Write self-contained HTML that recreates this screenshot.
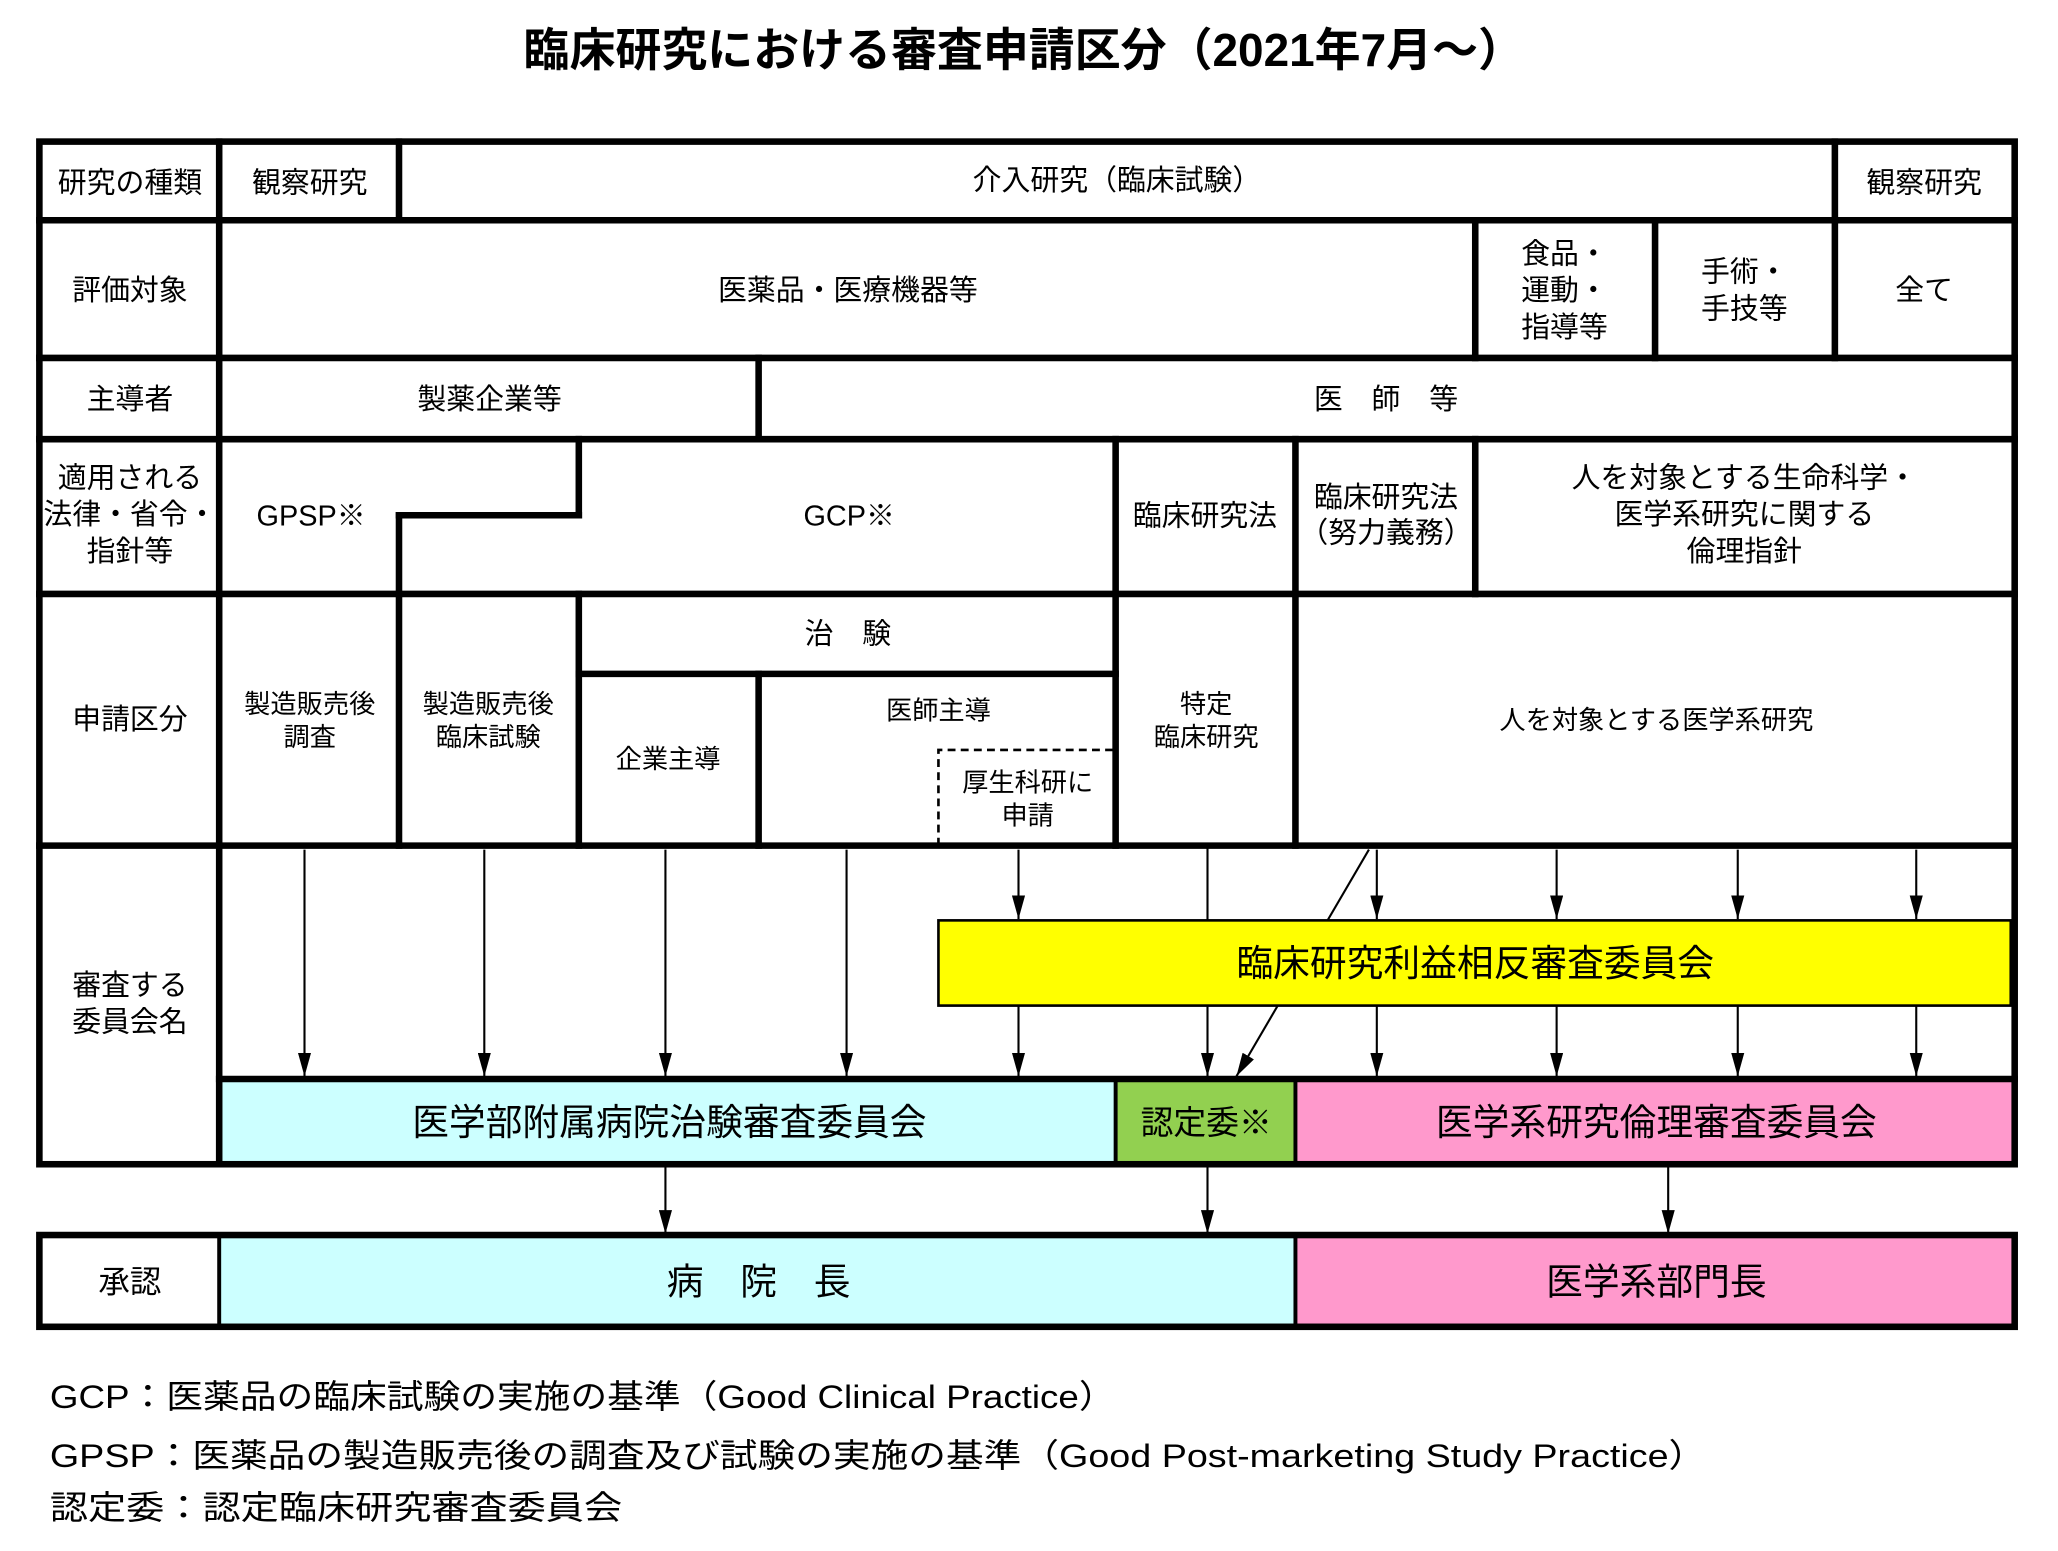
<!DOCTYPE html>
<html><head><meta charset="utf-8"><style>
html,body{margin:0;padding:0;background:#fff;}
svg{display:block;}
text{font-family:"Liberation Sans","Noto Sans CJK JP",sans-serif;fill:#000;}
</style></head><body>
<svg width="2058" height="1551" viewBox="0 0 1568 1183" preserveAspectRatio="none" xmlns="http://www.w3.org/2000/svg">
<defs>
<marker id="ah" markerWidth="18" markerHeight="10" refX="18" refY="5" orient="auto" markerUnits="userSpaceOnUse" viewBox="0 0 18 10">
<polygon points="0,0 18,5 0,10" fill="#000"/>
</marker>
</defs>
<rect width="1568" height="1183" fill="#fff"/>
<text x="780" y="38" font-size="35" font-weight="bold" text-anchor="middle" dominant-baseline="central">臨床研究における審査申請区分（2021年7月～）</text>

<rect x="167" y="823" width="683" height="65" fill="#CCFFFF"/>
<rect x="850" y="823" width="137" height="65" fill="#92D050"/>
<rect x="987" y="823" width="548" height="65" fill="#FF99CC"/>
<rect x="167" y="942" width="820" height="70" fill="#CCFFFF"/>
<rect x="987" y="942" width="548" height="70" fill="#FF99CC"/>

<g stroke="#000" stroke-width="1.6" fill="none">
<line x1="232" y1="648" x2="232" y2="821" marker-end="url(#ah)"/>
<line x1="369" y1="648" x2="369" y2="821" marker-end="url(#ah)"/>
<line x1="507" y1="648" x2="507" y2="821" marker-end="url(#ah)"/>
<line x1="645" y1="648" x2="645" y2="821" marker-end="url(#ah)"/>
<line x1="776" y1="648" x2="776" y2="701" marker-end="url(#ah)"/>
<line x1="776" y1="767" x2="776" y2="821" marker-end="url(#ah)"/>
<line x1="920" y1="645" x2="920" y2="821" marker-end="url(#ah)"/>
<line x1="1049" y1="648" x2="1049" y2="701" marker-end="url(#ah)"/>
<line x1="1049" y1="767" x2="1049" y2="821" marker-end="url(#ah)"/>
<line x1="1186" y1="648" x2="1186" y2="701" marker-end="url(#ah)"/>
<line x1="1186" y1="767" x2="1186" y2="821" marker-end="url(#ah)"/>
<line x1="1324" y1="648" x2="1324" y2="701" marker-end="url(#ah)"/>
<line x1="1324" y1="767" x2="1324" y2="821" marker-end="url(#ah)"/>
<line x1="1460" y1="648" x2="1460" y2="701" marker-end="url(#ah)"/>
<line x1="1460" y1="767" x2="1460" y2="821" marker-end="url(#ah)"/>
<line x1="1043" y1="648" x2="942" y2="821" marker-end="url(#ah)"/>
<line x1="507" y1="890" x2="507" y2="941" marker-end="url(#ah)"/>
<line x1="920" y1="890" x2="920" y2="941" marker-end="url(#ah)"/>
<line x1="1271" y1="890" x2="1271" y2="941" marker-end="url(#ah)"/>
</g>
<rect x="715" y="702" width="817" height="65" fill="#FFFF00" stroke="#000" stroke-width="2"/>

<g stroke="#000" stroke-width="5" fill="none" stroke-linecap="square">
<rect x="30" y="108" width="1505" height="780"/>
<line x1="30" y1="168" x2="1535" y2="168"/>
<line x1="30" y1="273" x2="1535" y2="273"/>
<line x1="30" y1="335" x2="1535" y2="335"/>
<line x1="30" y1="453" x2="1535" y2="453"/>
<line x1="30" y1="645" x2="1535" y2="645"/>
<line x1="167" y1="823" x2="1535" y2="823"/>
<line x1="441" y1="514" x2="850" y2="514"/>
<line x1="167" y1="108" x2="167" y2="888"/>
<line x1="304" y1="108" x2="304" y2="168"/>
<line x1="1398" y1="108" x2="1398" y2="168"/>
<line x1="1124" y1="168" x2="1124" y2="273"/>
<line x1="1261" y1="168" x2="1261" y2="273"/>
<line x1="1398" y1="168" x2="1398" y2="273"/>
<line x1="578" y1="273" x2="578" y2="335"/>
<line x1="441" y1="335" x2="441" y2="393"/>
<line x1="304" y1="393" x2="441" y2="393"/>
<line x1="304" y1="393" x2="304" y2="453"/>
<line x1="850" y1="335" x2="850" y2="453"/>
<line x1="987" y1="335" x2="987" y2="453"/>
<line x1="1124" y1="335" x2="1124" y2="453"/>
<line x1="304" y1="453" x2="304" y2="645"/>
<line x1="441" y1="453" x2="441" y2="645"/>
<line x1="850" y1="453" x2="850" y2="645"/>
<line x1="987" y1="453" x2="987" y2="645"/>
<line x1="578" y1="514" x2="578" y2="645"/>
<rect x="30" y="942" width="1505" height="70"/>
</g>
<g stroke="#000" stroke-width="3">
<line x1="850" y1="823" x2="850" y2="888"/>
<line x1="987" y1="823" x2="987" y2="888"/>
<line x1="167" y1="942" x2="167" y2="1012"/>
<line x1="987" y1="942" x2="987" y2="1012"/>
</g>
<g stroke="#000" stroke-width="2" stroke-dasharray="6,4" fill="none">
<polyline points="715,645 715,572 850,572"/>
</g>

<g font-size="22" text-anchor="middle" dominant-baseline="central">
<text x="99" y="140">研究の種類</text>
<text x="236" y="140">観察研究</text>
<text x="851" y="138">介入研究（臨床試験）</text>
<text x="1466" y="140">観察研究</text>
<text x="99" y="222">評価対象</text>
<text x="646" y="222">医薬品・医療機器等</text>
<text x="1192" y="194">食品・</text>
<text x="1192" y="222">運動・</text>
<text x="1192" y="250">指導等</text>
<text x="1329" y="208">手術・</text>
<text x="1329" y="236">手技等</text>
<text x="1466" y="222">全て</text>
<text x="99" y="305">主導者</text>
<text x="373" y="305">製薬企業等</text>
<text x="1056" y="305">医　師　等</text>
<text x="99" y="365">適用される</text>
<text x="99" y="393">法律・省令・</text>
<text x="99" y="421">指針等</text>
<text x="237" y="394">GPSP※</text>
<text x="647" y="394">GCP※</text>
<text x="918" y="394">臨床研究法</text>
<text x="1056" y="380">臨床研究法</text>
<text x="1056" y="407">（努力義務）</text>
<text x="1329" y="365">人を対象とする生命科学・</text>
<text x="1329" y="393">医学系研究に関する</text>
<text x="1329" y="421">倫理指針</text>
<text x="99" y="549">申請区分</text>
<text x="99" y="752">審査する</text>
<text x="99" y="780">委員会名</text>
</g>
<g font-size="20" text-anchor="middle" dominant-baseline="central">
<text x="236" y="537">製造販売後</text>
<text x="236" y="562">調査</text>
<text x="372" y="537">製造販売後</text>
<text x="372" y="562">臨床試験</text>
<text x="646" y="484" font-size="22">治　験</text>
<text x="509" y="579">企業主導</text>
<text x="715" y="542">医師主導</text>
<text x="783" y="597">厚生科研に</text>
<text x="783" y="622">申請</text>
<text x="919" y="537">特定</text>
<text x="919" y="562">臨床研究</text>
<text x="1262" y="549">人を対象とする医学系研究</text>
</g>
<g font-size="28" text-anchor="middle" dominant-baseline="central">
<text x="1124" y="735">臨床研究利益相反審査委員会</text>
<text x="510" y="856">医学部附属病院治験審査委員会</text>
<text x="919" y="856" font-size="25">認定委※</text>
<text x="1262" y="856">医学系研究倫理審査委員会</text>
<text x="99" y="978" font-size="24">承認</text>
<text x="578" y="978">病　院　長</text>
<text x="1262" y="978">医学系部門長</text>
</g>
<g font-size="25" dominant-baseline="central">
<text x="38" y="1065" textLength="812" lengthAdjust="spacingAndGlyphs">GCP：医薬品の臨床試験の実施の基準（Good Clinical Practice）</text>
<text x="38" y="1110" textLength="1262" lengthAdjust="spacingAndGlyphs">GPSP：医薬品の製造販売後の調査及び試験の実施の基準（Good Post-marketing Study Practice）</text>
<text x="38" y="1150" textLength="436" lengthAdjust="spacingAndGlyphs">認定委：認定臨床研究審査委員会</text>
</g>
</svg>
</body></html>
